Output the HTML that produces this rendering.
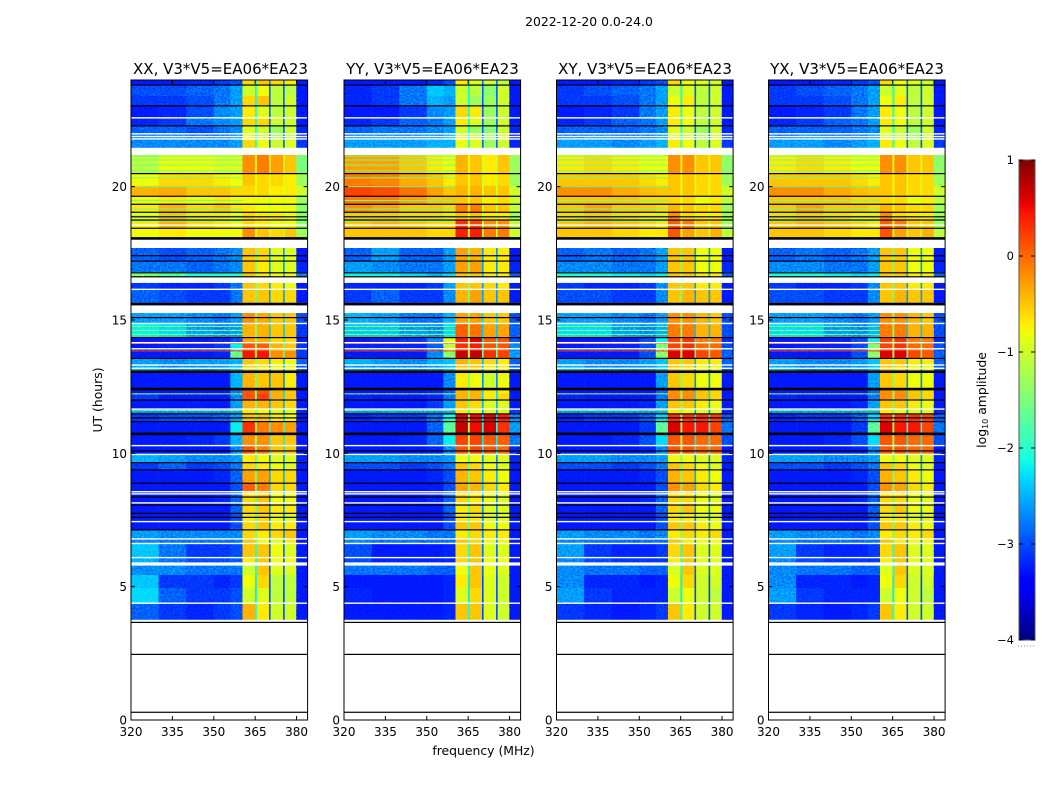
<!DOCTYPE html>
<html>
<head>
<meta charset="utf-8">
<title>2022-12-20 0.0-24.0</title>
<style>
html,body{margin:0;padding:0;background:#fff}
svg{display:block}
text{font-family:"DejaVu Sans","Liberation Sans",sans-serif;fill:#000}
.speckle{mix-blend-mode:overlay}
</style>
</head>
<body>
<svg id="chart" width="1050" height="800" viewBox="0 0 1050 800" xmlns="http://www.w3.org/2000/svg">
<defs>
<filter id="speckle0" x="0" y="0" width="1" height="1" color-interpolation-filters="sRGB"><feTurbulence type="fractalNoise" baseFrequency="0.45 0.6" numOctaves="2" seed="3"/><feColorMatrix type="matrix" values="1.8 0 0 0 -0.4 1.8 0 0 0 -0.4 1.8 0 0 0 -0.4 0 0 0 0 1"/></filter>
<filter id="speckle1" x="0" y="0" width="1" height="1" color-interpolation-filters="sRGB"><feTurbulence type="fractalNoise" baseFrequency="0.45 0.6" numOctaves="2" seed="11"/><feColorMatrix type="matrix" values="1.8 0 0 0 -0.4 1.8 0 0 0 -0.4 1.8 0 0 0 -0.4 0 0 0 0 1"/></filter>
</defs>
<text x="589" y="26" text-anchor="middle" font-size="12.4">2022-12-20 0.0-24.0</text>
<text x="483.500" y="755" text-anchor="middle" font-size="12.4">frequency (MHz)</text>
<text transform="translate(102,400) rotate(-90)" text-anchor="middle" font-size="12.4">UT (hours)</text>
<text transform="translate(986,400) rotate(-90)" text-anchor="middle" font-size="12.4">log<tspan font-size="8" dy="2">10</tspan><tspan dy="-2"> amplitude</tspan></text>
</svg>
<script>
const panelTitles = ["XX, V3*V5=EA06*EA23","YY, V3*V5=EA06*EA23","XY, V3*V5=EA06*EA23","YX, V3*V5=EA06*EA23"];
const xTickLabels = [320,335,350,365,380];
const yTickLabels = [0,5,10,15,20];
const colorbarTicks = [1,0,-1,-2,-3,-4];
const freqEdges = [320,330,340,350,356,360.4,364.9,365.6,370,370.6,375.1,375.7,379.9,384];
const utEdges = [24,23.81,23.4,23.06,22.58,22.28,21.98,21.75,21.47,21.19,20.51,20.03,19.65,19.35,19.05,18.75,18.45,18.11,17.7,17.18,16.8,16.61,16.39,16.13,15.56,15.26,14.89,14.33,14.14,13.84,13.58,13.31,13.05,12.41,12.23,12,11.66,11.48,11.21,10.73,10.31,9.98,9.64,9.38,8.89,8.55,8.14,7.76,7.43,7.13,6.79,6.6,6.08,5.85,5.44,4.95,4.39,3.77];
const gapNear = [-1.8,-1.8,-1.8,-1.8,-1.8,-1.8,-1.8,-1.8,0,-.9,-.9,-.9,-.9,-.9,-.9,-.9,-.9,0,-1.5,-1.5,-1.3,0,-1.5,-1.5,0,-1.4,-1.4,-1.4,-1.3,-1.2,-1.4,-1.5,-1.5,-1.4,-1.4,-1.5,-1.5,-1.4,-1.3,-1.3,-1.3,-1.6,-1.6,-1.5,-1.5,-1.6,-1.6,-1.6,-1.6,-1.6,-1.6,-1.8,-1.8,-1.8,-1.9,-1.9,-1.8];
const gapFar = [-2.5,-2.6,-2.6,-2.6,-2.6,-2.6,-2.6,-2.6,0,-1.1,-1.1,-1,-1.1,-1.1,-1.1,-1.1,-1.2,0,-2.3,-2.3,-2.2,0,-2.3,-2.3,0,-2,-2.1,-1.9,-1.7,-1.6,-2.2,-2.2,-2.4,-2,-2,-2.2,-2.3,-2,-1.8,-1.9,-1.9,-2.4,-2.4,-2.2,-2.1,-2.4,-2.4,-2.4,-2.4,-2.4,-2.4,-2.6,-2.6,-2.6,-2.7,-2.7,-2.7];
const accentUT = [21.15,21,20.81,20.59,20.33,20,19.48,19.16,18.9,18.71,14.76,14.61,14.46,14.12,13.84,12.23,11.6];
const accentValue = [-1.6,-1.6,-1.6,-1.6,-1.6,-1.6,-1.6,-1.6,-1.6,-1.6,-1.4,-1.4,-1.4,.1,.2,-1.2,-1.5];
const blackThin = [23.81,23.03,22.28,20.49,19.64,19.34,19.04,18.87,18.75,18.44,17.41,17.21,16.77,16.62,15.09,14.34,13.56,12,11.48,11.33,11.19,10.09,9.65,9.38,8.88,8.36,8.06,7.75,7.6,7.13,3.66,2.46,.29];
const blackThick = [18.06,15.6,13.06,12.41,10.73];
const whiteThin = [22.58,21.98,21.88,21.79,18.56,16.15,15.62,14.87,14.15,13.92,13.31,13.19,11.66,10.29,9.96,8.56,8.48,8.14,7.44,6.79,6.62,6.09,4.38];
const whiteThick = [5.85];
const matrixXX = [
[-3,-3,-2.9,-2.8,-2.7,-.7,-.6,-.7,-.8,-3.2],[-2.7,-2.7,-2.6,-2.5,-2.3,-1.1,-.9,-1.2,-1.2,-3],[-2.8,-2.8,-2.7,-2.5,-2.3,-.7,-.5,-1.2,-1.1,-3],[-3,-2.9,-2.7,-2.4,-2.3,-.8,-1,-1.2,-1.1,-3],[-2.9,-2.8,-2.5,-2.4,-2.3,-.7,-.7,-1.1,-1.1,-3],[-2.6,-2.6,-2.7,-2.5,-2.4,-1,-1.1,-1.3,-1.1,-2.9],[-2.5,-2.4,-2.5,-2.5,-2.4,-.9,-1.1,-1.3,-1.2,-2.8],[-2.4,-2.4,-2.4,-2.4,-2.3,-.7,-.9,-1.1,-1,-2.8],null,
[-1.2,-.9,-.9,-1,-1,-.2,-.1,-.3,-.6,-1.5],[-.9,-.7,-.7,-.8,-.9,-.6,-.7,-.7,-.8,-1.3],[-.4,-.35,-.5,-.5,-.7,-.7,-.7,-.8,-.8,-1.1],[-.9,-.8,-.9,-.8,-.9,-.9,-.9,-.9,-.9,-1.3],[-.8,-.4,-.7,-.5,-.8,-.8,-.9,-.9,-.9,-1.4],[-.9,-.6,-.8,-.8,-.9,-.7,-.8,-.8,-.9,-1.4],[-.8,-.4,-.7,-.8,-.9,-.7,-.8,-.9,-.9,-1.4],[-.9,-.8,-.9,-.9,-.9,-.2,-.6,-.7,-.5,-1.3],null,
[-2.6,-2.7,-2.6,-2.5,-2.4,-.6,-.7,-1,-1,-3],[-2.5,-2.5,-2.6,-2.5,-2.4,-.5,-.8,-1,-1,-2.9],[-1.5,-1.7,-1.8,-1.8,-1.8,-.5,-.8,-.9,-.9,-2.5],null,
[-2.8,-2.9,-2.9,-2.8,-2.5,-.6,-.7,-.8,-.9,-3],[-2.6,-2.7,-2.8,-2.8,-2.5,-.6,-.5,-.7,-.7,-3],null,
[-2.3,-2.3,-2.4,-2.5,-2.3,-.2,-.35,-.6,-.6,-2.7],[-1.9,-2,-2.3,-2.4,-2.3,-.4,-.4,-.6,-.6,-2.8],[-3,-3,-3,-2.9,-2.7,-.3,-.4,-.7,-.7,-3],[-3,-2.9,-2.9,-2.8,-1.9,.1,.05,-.4,-.5,-2.8],[-3,-3,-3,-2.9,-1.6,.45,.45,-.2,-.2,-2.8],[-2.3,-2.4,-2.3,-2.3,-2.2,-.6,-.7,-.8,-.9,-2.6],[-2.2,-2.4,-2.4,-2.3,-2.1,-.7,-.8,-.9,-.9,-2.6],[-3.1,-3.1,-3.1,-3,-2.2,-.4,-.5,-.6,-.8,-3.2],[-3,-3,-3,-3,-2.5,.1,.1,-.4,-.6,-3],[-2.8,-3,-3,-3,-2.4,.1,.2,-.4,-.6,-3],[-3,-3.1,-3,-3,-2.3,-.4,-.4,-.6,-.7,-3.1],[-2.4,-2.4,-2.4,-2.4,-2.3,-.8,-.9,-1,-1,-2.9],[-2.8,-2.7,-2.7,-2.6,-2.3,-.5,-.6,-.8,-.9,-3],[-3,-3.1,-3.1,-3,-1.9,.3,-.1,-.2,-.3,-3],[-3.1,-3,-2.9,-2.8,-2.2,-.2,-.2,-.5,-.5,-3.1],[-3.2,-3.1,-3.1,-3,-2.4,.1,-.1,-.6,-.6,-3.1],[-2.2,-2.3,-2.4,-2.4,-2.3,-.8,-.9,-1,-1,-2.9],[-2.8,-2.6,-2.8,-2.7,-2.5,-.7,-.8,-.9,-1,-3],[-3,-3,-3,-2.9,-2.6,-.3,-.3,-.7,-.7,-3.1],[-3,-3,-3,-3,-2.7,.05,-.1,-.7,-.7,-3.1],[-3,-3,-3,-2.9,-2.6,-.7,-.6,-.9,-.9,-3],[-3.1,-3.1,-3.1,-3,-2.6,-.7,-.5,-.8,-.8,-3.2],[-3,-3,-3,-3,-2.7,-.8,-.7,-.9,-1,-3.1],[-3,-3,-3,-3,-2.7,-.7,-.5,-.8,-.8,-3.2],[-2.3,-2.4,-2.4,-2.4,-2.4,-.7,-.8,-.7,-.5,-3],[-2.4,-2.5,-2.5,-2.5,-2.5,-.5,-.9,-1,-.8,-3],[-2.1,-2.5,-2.8,-2.8,-2.7,-.6,-.6,-.9,-1,-3.1],[-2.2,-2.5,-2.7,-2.7,-2.6,-.8,-.5,-.9,-.9,-3],[-2.4,-2.4,-2.5,-2.5,-2.5,-1.1,-.6,-1,-1,-3],[-2.1,-2.8,-2.8,-2.9,-2.8,-.9,-.7,-1.2,-1.2,-3],[-2,-2.6,-2.8,-2.8,-2.7,-1.1,-1,-1.2,-1.2,-3],[-2.6,-2.8,-2.9,-2.8,-2.7,-.4,-.8,-1.1,-1.1,-3]
];
const matrixYY = [
[-3,-3,-3,-2.9,-2.7,-.8,-1,-1.1,-1.2,-3.3],[-2.9,-2.8,-2.5,-2.1,-2.2,-1.1,-1.2,-1.4,-1.1,-3],[-2.9,-2.8,-2.5,-2.2,-2.3,-1.1,-1.3,-1.3,-1.1,-3],[-3,-3,-2.8,-2.4,-2.3,-.7,-.8,-1.3,-1.1,-3],[-2.9,-2.8,-2.6,-2.5,-2.3,-.8,-1,-1.3,-1.1,-3],[-2.6,-2.5,-2.5,-2.4,-2.3,-1.1,-1.3,-1.4,-1.1,-2.9],[-2.4,-2.4,-2.4,-2.4,-2.2,-1,-1.1,-1.3,-1.1,-2.9],[-2.3,-2.3,-2.3,-2.2,-2.2,-.9,-1,-1.3,-1.1,-2.9],null,
[-.3,-.3,-.5,-.8,-.9,-.4,-.5,-.8,-.6,-1.3],[-.1,-.15,-.35,-.6,-.8,-.5,-.5,-.8,-.7,-1.3],[.2,.15,-.05,-.3,-.5,-.4,-.4,-.6,-.6,-1.1],[-.1,-.1,-.3,-.5,-.6,-.5,-.5,-.8,-.7,-1.1],[-.2,-.3,-.5,-.6,-.7,-.1,-.1,-.6,-.6,-1.2],[-.6,-.6,-.7,-.7,-.8,-.6,-.6,-.8,-.8,-1.3],[-.5,-.4,-.6,-.7,-.7,.3,.2,-.2,-.2,-1.2],[-.5,-.5,-.6,-.7,-.7,.4,.4,-.1,-.1,-1.1],null,
[-2.6,-2.3,-2.6,-2.6,-2.3,-.3,-.4,-.8,-.8,-3],[-2.3,-2.4,-2.5,-2.5,-2.3,-.3,-.3,-.8,-.8,-2.9],[-1.9,-1.9,-2,-2.2,-2,-.5,-.5,-.8,-.8,-2.6],null,
[-2.9,-2.9,-2.9,-2.8,-2.3,-.5,-.5,-.7,-.8,-3],[-2.8,-2.6,-2.8,-2.8,-2.4,-.4,-.3,-.5,-.6,-3],null,
[-2.2,-2.3,-2.5,-2.5,-2.2,-.3,-.3,-.5,-.5,-2.7],[-2.1,-2.1,-2.3,-2.4,-2,.05,-.05,-.3,-.3,-2.6],[-3,-2.9,-2.8,-2.4,-1,.4,.6,.1,.1,-2.7],[-2.9,-2.9,-2.9,-2.6,-1.2,.3,.4,.1,.1,-2.4],[-3,-3,-3,-2.4,-1.4,.7,.7,.3,.2,-2.3],[-2.2,-2.3,-2.4,-2.2,-2.1,-.4,-.5,-.7,-.8,-2.6],[-2.3,-2.4,-2.4,-2.3,-2.1,-.5,-.6,-.8,-.8,-2.6],[-3.1,-3.1,-3.1,-3,-2.4,-.8,-.9,-1.1,-.9,-3.1],[-3,-3,-3,-2.9,-2.6,-.4,-.4,-.8,-.8,-3],[-2.9,-3,-3,-2.9,-2.5,-.4,-.4,-.8,-.7,-3],[-3,-3,-3,-2.8,-2.3,-.6,-.7,-1,-1,-3],[-2.4,-2.4,-2.4,-2.4,-2.3,-.8,-.9,-1,-1,-2.8],[-2.9,-2.8,-2.8,-2.5,-1.8,.6,.5,.6,.4,-2.4],[-3.1,-3.1,-3,-2.6,-1.7,.7,.5,.6,.3,-2.3],[-3,-3,-2.9,-2.6,-1.9,.2,.2,.1,.05,-2.5],[-3.1,-3.1,-3.1,-2.9,-2.4,.1,.2,.1,0,-2.9],[-2.3,-2.3,-2.4,-2.4,-2.3,-.9,-.9,-1,-1,-2.9],[-2.7,-2.7,-2.8,-2.7,-2.5,-.6,-.7,-.9,-1,-3],[-3,-3,-3,-2.9,-2.7,-.4,-.6,-.8,-.9,-3.1],[-3,-3,-3,-3,-2.7,-.3,-.4,-.7,-.8,-3.1],[-3,-3,-3,-2.9,-2.6,-.7,-.8,-.9,-1,-3],[-3.1,-3.1,-3.1,-3,-2.6,-.8,-.7,-1,-1,-3.2],[-3,-3,-3,-3,-2.7,-.8,-.8,-1,-1,-3.1],[-3,-3,-3,-3,-2.7,-.6,-.6,-.9,-.9,-3.2],[-2.3,-2.4,-2.4,-2.5,-2.5,-.8,-.7,-.8,-.8,-3],[-2.4,-2.5,-2.5,-2.5,-2.5,-.6,-.7,-.9,-.9,-3],[-2.7,-3,-3,-3,-2.9,-.7,-.6,-1,-1,-3.1],[-2.7,-2.9,-2.9,-2.9,-2.9,-.7,-.5,-.9,-.9,-3],[-2.5,-2.5,-2.5,-2.6,-2.6,-.9,-.5,-.9,-1,-3],[-3,-3,-3,-3,-2.9,-.8,-.6,-1,-1.1,-3.1],[-2.9,-3,-3,-3,-2.9,-1,-.7,-1,-1.1,-3.1],[-3,-3,-3,-3,-2.9,-.5,-.6,-1,-1.1,-3.1]
];
const matrixCross = [
[-3,-3,-2.9,-2.8,-2.7,-.7,-.9,-1,-1.1,-3.2],[-2.8,-2.7,-2.6,-2.5,-2.3,-1.1,-1,-1.2,-1.1,-3],[-2.8,-2.8,-2.7,-2.5,-2.3,-.9,-.8,-1.2,-1.1,-3],[-3,-2.9,-2.8,-2.5,-2.3,-.8,-.9,-1.2,-1.1,-3],[-2.9,-2.8,-2.6,-2.5,-2.3,-.8,-.9,-1.2,-1.1,-3],[-2.6,-2.6,-2.6,-2.5,-2.4,-1,-1.1,-1.3,-1.1,-2.9],[-2.5,-2.4,-2.5,-2.5,-2.3,-1,-1.1,-1.3,-1.1,-2.8],[-2.3,-2.3,-2.4,-2.3,-2.2,-.8,-.9,-1.2,-1,-2.8],null,
[-.8,-.7,-.8,-.9,-.9,-.2,-.2,-.5,-.6,-1.4],[-.6,-.6,-.6,-.7,-.8,-.6,-.5,-.7,-.7,-1.3],[-.2,-.2,-.35,-.45,-.6,-.6,-.6,-.7,-.7,-1.1],[-.5,-.5,-.6,-.7,-.7,-.7,-.7,-.9,-.8,-1.2],[-.5,-.3,-.5,-.6,-.7,-.4,-.5,-.7,-.7,-1.3],[-.7,-.5,-.7,-.8,-.8,-.2,-.7,-.8,-.8,-1.3],[-.6,-.4,-.6,-.7,-.8,.05,-.1,-.5,-.5,-1.3],[-.6,-.6,-.7,-.8,-.8,.1,-.3,-.5,-.4,-1.2],null,
[-2.6,-2.5,-2.6,-2.5,-2.3,-.6,-.6,-.9,-.9,-3],[-2.4,-2.4,-2.5,-2.5,-2.3,-.5,-.6,-.9,-.9,-2.9],[-1.8,-1.8,-1.9,-2,-1.9,-.5,-.6,-.8,-.8,-2.6],null,
[-2.8,-2.9,-2.9,-2.8,-2.4,-.5,-.6,-.8,-.8,-3],[-2.7,-2.7,-2.8,-2.8,-2.4,-.5,-.4,-.6,-.6,-3],null,
[-2.3,-2.3,-2.4,-2.5,-2.3,-.2,-.2,-.4,-.5,-2.7],[-2,-2,-2.3,-2.4,-2.2,-.1,-.1,-.4,-.4,-2.7],[-3,-3,-2.9,-2.7,-1.9,.2,.3,-.1,-.1,-2.9],[-3,-2.9,-2.9,-2.7,-1.5,.2,.3,0,0,-2.7],[-3,-3,-3,-2.7,-1.4,.6,.6,.2,.1,-2.6],[-2.3,-2.4,-2.4,-2.3,-2.1,-.5,-.6,-.8,-.8,-2.6],[-2.2,-2.4,-2.4,-2.3,-2.1,-.6,-.7,-.9,-.9,-2.6],[-3.1,-3.1,-3.1,-3,-2.3,-.6,-.7,-.9,-.9,-3.1],[-3,-3,-3,-3,-2.6,-.2,-.2,-.6,-.7,-3],[-2.9,-3,-3,-3,-2.5,-.2,-.2,-.6,-.7,-3],[-3,-3,-3,-2.9,-2.3,-.5,-.6,-.8,-.9,-3],[-2.4,-2.4,-2.4,-2.4,-2.3,-.8,-.9,-1,-1,-2.9],[-2.9,-2.8,-2.8,-2.6,-2,.3,.3,.3,.2,-2.6],[-3.1,-3.1,-3,-2.8,-1.7,.6,.45,.45,.2,-2.5],[-3,-3,-2.9,-2.7,-2,.1,.1,0,0,-2.7],[-3.1,-3.1,-3.1,-2.9,-2.4,.1,.1,0,0,-3],[-2.3,-2.3,-2.4,-2.4,-2.3,-.9,-.9,-1,-1,-2.9],[-2.7,-2.7,-2.8,-2.7,-2.5,-.6,-.7,-.9,-1,-3],[-3,-3,-3,-2.9,-2.7,-.4,-.5,-.8,-.9,-3.1],[-3,-3,-3,-3,-2.7,-.2,-.3,-.7,-.8,-3.1],[-3,-3,-3,-2.9,-2.6,-.7,-.7,-.9,-1,-3],[-3.1,-3.1,-3.1,-3,-2.6,-.7,-.6,-.9,-.9,-3.2],[-3,-3,-3,-3,-2.7,-.8,-.8,-1,-1,-3.1],[-3,-3,-3,-3,-2.7,-.6,-.6,-.8,-.9,-3.2],[-2.3,-2.4,-2.4,-2.5,-2.4,-.8,-.7,-.8,-.7,-3],[-2.4,-2.5,-2.5,-2.5,-2.5,-.6,-.8,-.9,-.9,-3],[-2.3,-2.8,-2.9,-2.9,-2.8,-.7,-.6,-1,-1,-3.1],[-2.4,-2.7,-2.8,-2.8,-2.8,-.8,-.6,-1,-1,-3],[-2.4,-2.5,-2.5,-2.6,-2.6,-1,-.6,-1,-1,-3],[-2.4,-2.9,-2.9,-3,-2.9,-.9,-.7,-1.1,-1.1,-3.1],[-2.3,-2.8,-2.9,-2.9,-2.9,-1.1,-.9,-1.1,-1.2,-3.1],[-2.8,-2.9,-3,-2.9,-2.8,-.6,-.8,-1.1,-1.1,-3.1]
];
const panelMatrices = [matrixXX, matrixYY, matrixCross, matrixCross];
const panelLeft = [131,344,556.5,768.5];
const panelTitleCentre = [220.5,432.5,645,857];

const SVGNS = "http://www.w3.org/2000/svg";
const chart = document.getElementById("chart");
const panelWidth = 176.6, plotTop = 80, plotBottom = 720;
const cbLeft = 1019, cbRight = 1035, cbTop = 160, cbBottom = 640;

function make(tag, attrs, parent, txt){
  const el = document.createElementNS(SVGNS, tag);
  for (const k in attrs) el.setAttribute(k, attrs[k]);
  if (txt !== undefined) el.textContent = txt;
  parent.appendChild(el);
  return el;
}
function ramp(t, pts){
  for (let i = 1; i < pts.length; i++){
    if (t <= pts[i][0]){
      const a = pts[i-1], b = pts[i];
      return a[1] + (b[1]-a[1]) * (t-a[0]) / (b[0]-a[0]);
    }
  }
  return pts[pts.length-1][1];
}
function jet(v){
  const t = Math.max(0, Math.min(1, (v + 4) / 5));
  const r = ramp(t, [[0,0],[.35,0],[.66,1],[.89,1],[1,.5]]);
  const g = ramp(t, [[0,0],[.125,0],[.375,1],[.64,1],[.91,0],[1,0]]);
  const b = ramp(t, [[0,.5],[.11,1],[.34,1],[.65,0],[1,0]]);
  return "rgb(" + Math.round(r*255) + "," + Math.round(g*255) + "," + Math.round(b*255) + ")";
}
function cellColor(v){
  if (v < -1.7) return jet(Math.max(v - 0.3, -3.25));
  if (v > -1.3 && v < -0.5) return jet(v + 0.1);
  return jet(v);
}
function xScale(left, mhz){ return left + (mhz - 320) * panelWidth / 64; }
function yScale(ut){ return plotBottom - ut * (plotBottom - plotTop) / 24; }
function cbScale(v){ return cbBottom - (v + 4) * (cbBottom - cbTop) / 5; }
function addSpeckle(g, left, p, f0, f1, ut0, ut1, strength){
  const x0 = xScale(left, f0), x1 = xScale(left, f1), y0 = yScale(ut0), y1 = yScale(ut1);
  const patch = make("rect", {x:x0, y:y0, width:x1-x0, height:y1-y0, filter:"url(#speckle" + (p % 2) + ")", opacity:strength, "class":"speckle"}, g);
  
  
}

panelMatrices.forEach(function(matrix, p){
  const left = panelLeft[p];
  const g = make("g", {}, chart);
  
  

  const bg = make("rect", {x:left, y:plotTop, width:panelWidth, height:plotBottom-plotTop, fill:"#fff"}, g);
  
  

  matrix.forEach(function(row, r){
    if (!row) return;
    const cols = [row[0],row[1],row[2],row[3],row[4],row[5],gapNear[r],row[6],gapFar[r],row[7],gapFar[r],row[8],row[9]];
    cols.forEach(function(v, c){
      const x0 = xScale(left, freqEdges[c]), x1 = xScale(left, freqEdges[c+1]);
      const y0 = yScale(utEdges[r]), y1 = yScale(utEdges[r+1]);
      const cell = make("rect", {x:x0, y:y0, width:x1-x0+.3, height:y1-y0+.3, fill:cellColor(v)}, g);
      
      
    });
  });

  accentUT.forEach(function(ut, i){
    const acc = make("rect", {x:left, y:yScale(ut)-.5, width:xScale(left,360.4)-left, height:1, fill:jet(accentValue[i])}, g);
    
    
  });

  addSpeckle(g, left, p, 320, 360.4, 24, 21.47, .4);
  addSpeckle(g, left, p, 320, 360.4, 17.7, 3.77, .4);
  addSpeckle(g, left, p, 379.9, 384, 24, 21.47, .4);
  addSpeckle(g, left, p, 379.9, 384, 17.7, 3.77, .4);
  addSpeckle(g, left, p, 320, 384, 21.19, 18.11, .08);
  addSpeckle(g, left, p, 360.4, 379.9, 24, 21.47, .16);
  addSpeckle(g, left, p, 360.4, 379.9, 17.7, 3.77, .16);

  whiteThin.forEach(function(ut){
    const ln = make("rect", {x:left, y:yScale(ut)-.7, width:panelWidth, height:1.4, fill:"#fff"}, g);
    
    
  });
  whiteThick.forEach(function(ut){
    const ln = make("rect", {x:left, y:yScale(ut)-1.6, width:panelWidth, height:3.2, fill:"#fff"}, g);
    
    
  });
  blackThin.forEach(function(ut){
    const ln = make("rect", {x:left, y:yScale(ut)-.6, width:panelWidth, height:1.2, fill:"#000"}, g);
    
    
  });
  blackThick.forEach(function(ut){
    const ln = make("rect", {x:left, y:yScale(ut)-1.3, width:panelWidth, height:2.6, fill:"#000"}, g);
    
    
  });

  const frame = make("rect", {x:left, y:plotTop, width:panelWidth, height:plotBottom-plotTop, fill:"none", stroke:"#000", "stroke-width":1}, g);
  
  

  const title = make("text", {x:panelTitleCentre[p], y:74, "text-anchor":"middle", "font-size":15}, g, panelTitles[p]);
  
  

  xTickLabels.forEach(function(mhz){
    const x = xScale(left, mhz);
    const tb = make("line", {x1:x, x2:x, y1:plotBottom, y2:plotBottom-4, stroke:"#000", "stroke-width":1}, g);
    
    
    const tt = make("line", {x1:x, x2:x, y1:plotTop, y2:plotTop+4, stroke:"#000", "stroke-width":1}, g);
    
    
    const lb = make("text", {x:x, y:736, "text-anchor":"middle", "font-size":12}, g, String(mhz));
    
    
  });
  yTickLabels.forEach(function(ut){
    const y = yScale(ut);
    const tl = make("line", {x1:left, x2:left+4, y1:y, y2:y, stroke:"#000", "stroke-width":1}, g);
    
    
    const tr = make("line", {x1:left+panelWidth-4, x2:left+panelWidth, y1:y, y2:y, stroke:"#000", "stroke-width":1}, g);
    
    
    const lb = make("text", {x:left-4, y:y+4.5, "text-anchor":"end", "font-size":12}, g, String(ut));
    
    
  });
});

const cb = make("g", {}, chart);


for (let i = 0; i < 240; i++){
  const v = -4 + (i + .5) * 5 / 240;
  const step = make("rect", {x:cbLeft, y:cbScale(v)-1.5, width:cbRight-cbLeft, height:2.4, fill:jet(v)}, cb);
  
  
}
const cbFrame = make("rect", {x:cbLeft, y:cbTop, width:cbRight-cbLeft, height:cbBottom-cbTop, fill:"none", stroke:"#555", "stroke-width":1}, cb);


colorbarTicks.forEach(function(v){
  const y = cbScale(v);
  const a = make("line", {x1:cbLeft, x2:cbLeft+4, y1:y, y2:y, stroke:"#000", "stroke-width":1}, cb);
  
  
  const b = make("line", {x1:cbRight-4, x2:cbRight, y1:y, y2:y, stroke:"#000", "stroke-width":1}, cb);
  
  
  const lb = make("text", {x:cbLeft-5, y:y+4, "text-anchor":"end", "font-size":11.5}, cb, String(v).replace("-", "\u2212"));
  
  
});
const dots = make("line", {x1:cbLeft-1, x2:cbRight, y1:646, y2:646, stroke:"#888", "stroke-width":1, "stroke-dasharray":"1 2"}, cb);


</script>
</body>
</html>
